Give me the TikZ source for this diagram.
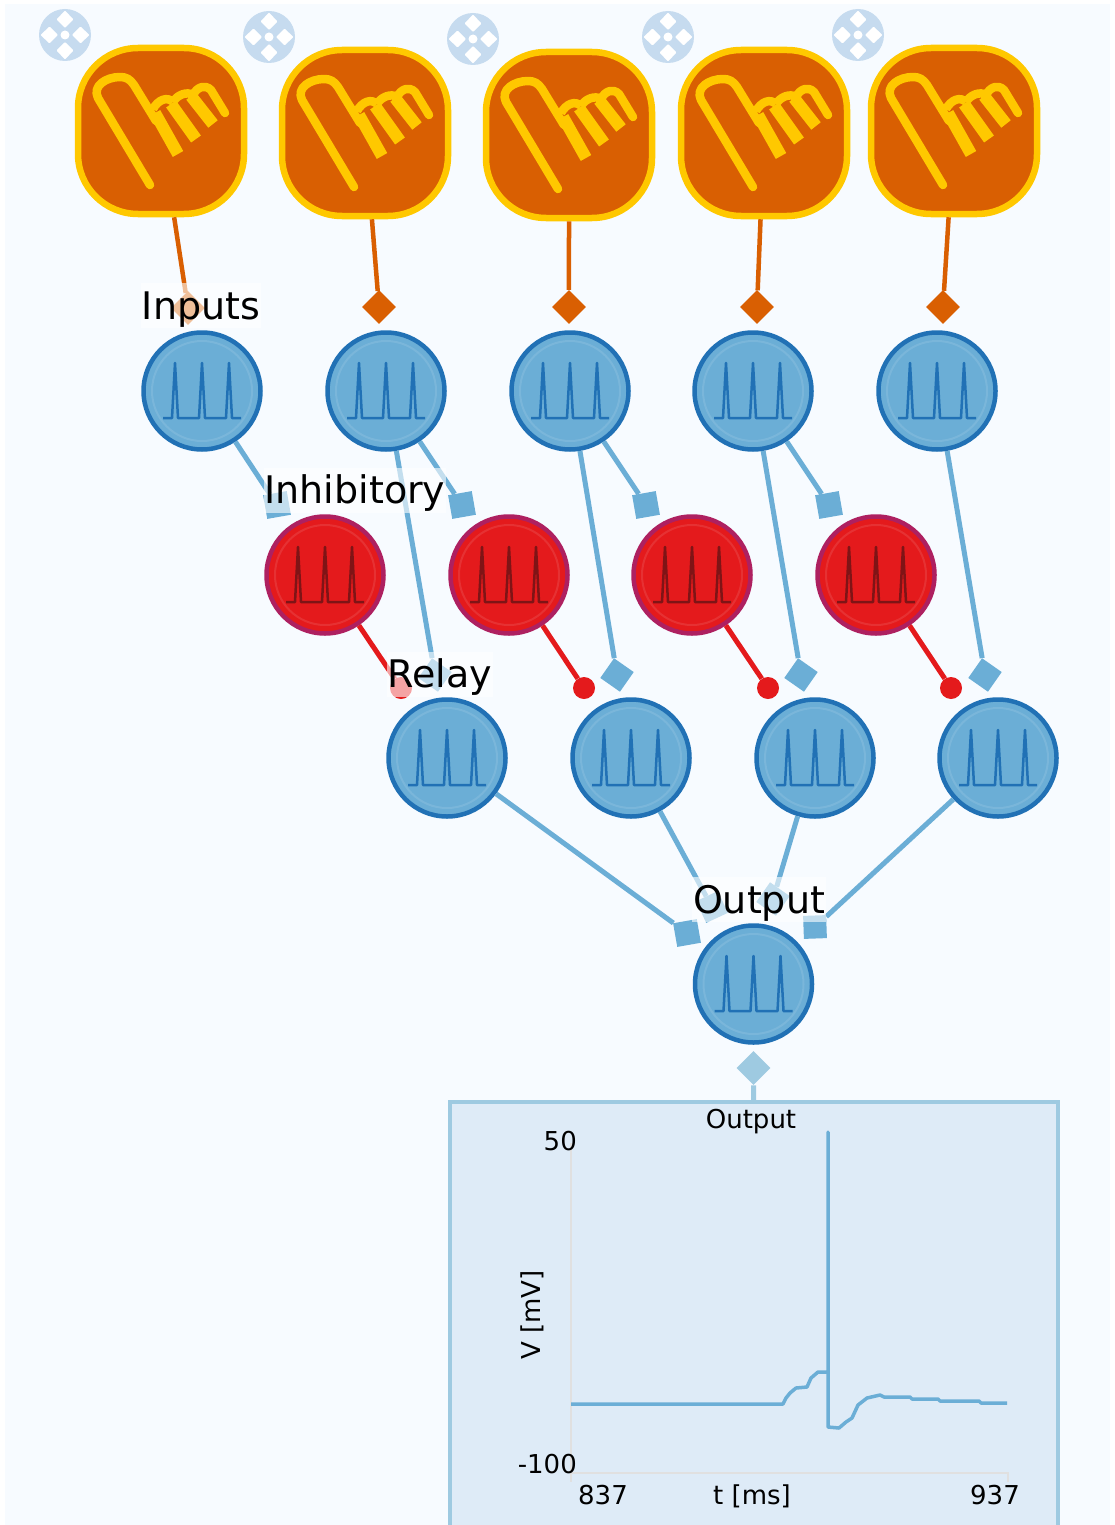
\documentclass[tikz,border=0pt]{standalone}
\usepackage{fontspec}
\setmainfont{DejaVu Sans}
\definecolor{pagebg}{HTML}{F7FBFF}
\definecolor{stimfill}{HTML}{D95F02}
\definecolor{stimedge}{HTML}{FFC800}
\definecolor{cellfill}{HTML}{6BAED6}
\definecolor{celledge}{HTML}{2171B5}
\definecolor{redfill}{HTML}{E41A1C}
\definecolor{rededge}{HTML}{AE2060}
\definecolor{redspike}{HTML}{7F1416}
\definecolor{probeline}{HTML}{9ECAE1}
\definecolor{panelfill}{HTML}{DEEBF7}
\definecolor{moveblue}{HTML}{C6DBEF}
\tikzset{
  stimbox/.style={draw=stimedge,fill=stimfill,line width=6.5pt,minimum size=166pt,rounded corners=60pt,inner sep=0pt},
  cellblue/.style={circle,draw=celledge,fill=cellfill,line width=4.5pt,minimum size=117pt,inner sep=0pt},
  cellred/.style={circle,draw=rededge,fill=redfill,line width=4.5pt,minimum size=117pt,inner sep=0pt},
  stimdiamond/.style={fill=stimfill,minimum size=24pt,inner sep=0pt,rotate=45},
  syndiamond/.style={fill=cellfill,minimum size=24pt,inner sep=0pt,rotate=55},
  synsquare/.style={fill=cellfill,minimum size=24pt,inner sep=0pt,rotate=10},
  syncircle/.style={circle,fill=redfill,minimum size=22pt,inner sep=0pt},
  probediamond/.style={fill=probeline,minimum size=24pt,inner sep=0pt,rotate=45},
  stimline/.style={draw=stimfill,line width=4.5pt},
  blueline/.style={draw=cellfill,line width=5pt},
  redline/.style={draw=redfill,line width=5pt},
  probeedge/.style={draw=probeline,line width=5pt},
  rowlabel/.style={fill=white,fill opacity=0.6,text opacity=1,inner sep=1pt,text height=35pt,text depth=8pt,font=\fontsize{38}{40}\selectfont},
  plotlabel/.style={inner sep=0pt,font=\fontsize{26}{28}\selectfont},
  pics/handicon/.style={code={
    \draw [stimedge,line width=8.5pt,line cap=round,line join=round] (-11,54) -- (-63,-33) .. controls (-69,-45) and (-55,-54) .. (-41,-54) .. controls (-35,-54) and (-31,-52) .. (-27,-46) -- (-5,-10);
    \draw [stimedge,line width=12pt] (-6,-18) -- (17,23);
    \draw [stimedge,line width=8.5pt,line join=round] (-8,-22) .. controls (-3,-31) and (6,-35) .. (12,-29);
    \draw [stimedge,line width=12pt] (10,-27) -- (35,8);
    \draw [stimedge,line width=8.5pt,line join=round] (12,-29) .. controls (16,-36) and (26,-40) .. (32,-36);
    \draw [stimedge,line width=12pt] (30,-35) -- (52,-7);
    \draw [stimedge,line width=8.5pt,line cap=round,line join=round] (32,-36) .. controls (36,-44) and (44,-47) .. (50,-41) -- (64,-18);
  }},
  pics/moveicon/.style={code={
    \fill [moveblue] (0,0) circle (26);
    \fill [white] (0,0) circle (4.5);
    \foreach \a in {0,90,180,270}
      \fill [white,rotate=\a,rounded corners=1pt] (7,0) -- (15.5,-8.5) -- (24.5,0) -- (15.5,8.5) -- cycle;
  }},
  pics/spiketrain/.style={code={
    \draw [#1,line width=2.5pt,line join=round] (-39,27) -- (-30,27) -- (-27,-28) -- (-24,27) -- (-3,27) -- (0,-28) -- (3,27) -- (24,27) -- (27,-28) -- (30,27) -- (39,27);
    \draw [white,opacity=0.1,line width=2pt] (0,0) circle (50);
  }}
}
\begin{document}
\begin{tikzpicture}[x=1pt,y=-1pt]
  \clip (0,0) rectangle (1114,1525);
  \fill [white] (0,0) rectangle (1114,1525);
  \fill [pagebg] (5,4) rectangle (1110,1525);
  \draw (161,131) node (stima) [stimbox] {};
  \draw (365,133) node (stimb) [stimbox] {};
  \draw (569,135) node (stimc) [stimbox] {};
  \draw (764,133) node (stimd) [stimbox] {};
  \draw (954,131) node (stime) [stimbox] {};
  \draw (161,131) pic {handicon};
  \draw (365,133) pic {handicon};
  \draw (569,135) pic {handicon};
  \draw (764,133) pic {handicon};
  \draw (954,131) pic {handicon};
  \draw (65,35) pic {moveicon};
  \draw (269,37) pic {moveicon};
  \draw (473,39) pic {moveicon};
  \draw (668,37) pic {moveicon};
  \draw (858,35) pic {moveicon};
  \draw (188,308) node (dstima) [stimdiamond] {};
  \draw (379,307) node (dstimb) [stimdiamond] {};
  \draw (569,307) node (dstimc) [stimdiamond] {};
  \draw (757,307) node (dstimd) [stimdiamond] {};
  \draw (943,307) node (dstime) [stimdiamond] {};
  \draw (202,391) node (ina) [cellblue] {};
  \draw (386,391) node (inb) [cellblue] {};
  \draw (570,391) node (inc) [cellblue] {};
  \draw (753,391) node (ind) [cellblue] {};
  \draw (937,391) node (ine) [cellblue] {};
  \draw (325,575) node (inha) [cellred] {};
  \draw (509,575) node (inhb) [cellred] {};
  \draw (692,575) node (inhc) [cellred] {};
  \draw (876,575) node (inhd) [cellred] {};
  \draw (447,758) node (rela) [cellblue] {};
  \draw (631,758) node (relb) [cellblue] {};
  \draw (815,758) node (relc) [cellblue] {};
  \draw (998,758) node (reld) [cellblue] {};
  \draw (753.5,984) node (out) [cellblue] {};
  \foreach \p in {(202,391),(386,391),(570,391),(753,391),(937,391),(447,758),(631,758),(815,758),(998,758),(753.5,984)}
    \draw \p pic {spiketrain=celledge};
  \foreach \p in {(325,575),(509,575),(692,575),(876,575)}
    \draw \p pic {spiketrain=redspike};
  \draw (277,505) node (sqa) [synsquare] {};
  \draw (462,505) node (sqb) [synsquare] {};
  \draw (646,505) node (sqc) [synsquare] {};
  \draw (829,505) node (sqd) [synsquare] {};
  \draw (435,675) node (dia) [syndiamond] {};
  \draw (617,675) node (dib) [syndiamond] {};
  \draw (801,675) node (dic) [syndiamond] {};
  \draw (985,675) node (did) [syndiamond] {};
  \draw (401,688) node (cira) [syncircle] {};
  \draw (584,688) node (cirb) [syncircle] {};
  \draw (768,688) node (circ) [syncircle] {};
  \draw (951,688) node (cird) [syncircle] {};
  \draw (687,933) node (osqa) [synsquare] {};
  \draw (712,907) node (odia) [fill=cellfill,minimum size=24pt,inner sep=0pt,rotate=25] {};
  \draw (773,899) node (odib) [syndiamond] {};
  \draw (815,927) node (osqb) [fill=cellfill,minimum size=23pt,inner sep=0pt,rotate=2] {};
  \draw (753.5,1068) node (prb) [probediamond] {};
  \draw (753.5,1316) node (panel) [rectangle,draw=probeline,fill=panelfill,line width=4pt,minimum width=608pt,minimum height=428pt,inner sep=0pt] {};
  \draw [stimline] (stima) -- (dstima);
  \draw [stimline] (stimb) -- (dstimb);
  \draw [stimline] (stimc) -- (dstimc);
  \draw [stimline] (stimd) -- (dstimd);
  \draw [stimline] (stime) -- (dstime);
  \draw [blueline] (ina) -- (sqa);
  \draw [blueline] (inb) -- (sqb);
  \draw [blueline] (inc) -- (sqc);
  \draw [blueline] (ind) -- (sqd);
  \draw [blueline] (inb) -- (dia);
  \draw [blueline] (inc) -- (dib);
  \draw [blueline] (ind) -- (dic);
  \draw [blueline] (ine) -- (did);
  \draw [redline] (inha) -- (cira);
  \draw [redline] (inhb) -- (cirb);
  \draw [redline] (inhc) -- (circ);
  \draw [redline] (inhd) -- (cird);
  \draw [blueline] (rela) -- (osqa);
  \draw [blueline] (relb) -- (odia);
  \draw [blueline] (relc) -- (odib);
  \draw [blueline] (reld) -- (osqb);
  \draw [probeedge] (prb) -- (panel);
  \draw [black!12,line width=2.5pt] (571,1143) -- (571,1482);
  \draw [black!12,line width=2.5pt] (571,1473) -- (1008,1473) -- (1008,1482);
  \draw [cellfill,line width=3.5pt,line join=round] (571,1404) -- (783,1404) -- (786,1398) -- (790,1393) -- (796,1388) -- (807,1387) -- (811,1378) -- (818,1372) -- (828,1372) -- (828,1132) -- (828,1427) -- (839,1428) -- (846,1422) -- (852,1418) -- (858,1405) -- (867,1398) -- (880,1395) -- (884,1397) -- (910,1397) -- (912,1399) -- (938,1399) -- (940,1401) -- (979,1401) -- (981,1403) -- (1007,1403);
  \draw (751,1122) node (ptitle) [plotlabel] {Output};
  \draw (577,1141) node (ytop) [plotlabel,anchor=east] {50};
  \draw (577,1464) node (ybot) [plotlabel,anchor=east] {-100};
  \draw (603,1495) node (xleft) [plotlabel] {837};
  \draw (995,1495) node (xright) [plotlabel] {937};
  \draw (752,1496) node (xlab) [plotlabel] {t [ms]};
  \draw (532,1315) node (ylab) [plotlabel,rotate=90] {V [mV]};
  \draw (201,305.5) node (lbinputs) [rowlabel] {Inputs};
  \draw (355,490) node (lbinh) [rowlabel] {Inhibitory};
  \draw (440,674) node (lbrelay) [rowlabel] {Relay};
  \draw (759,899.5) node (lbout) [rowlabel] {Output};
\end{tikzpicture}
\end{document}
